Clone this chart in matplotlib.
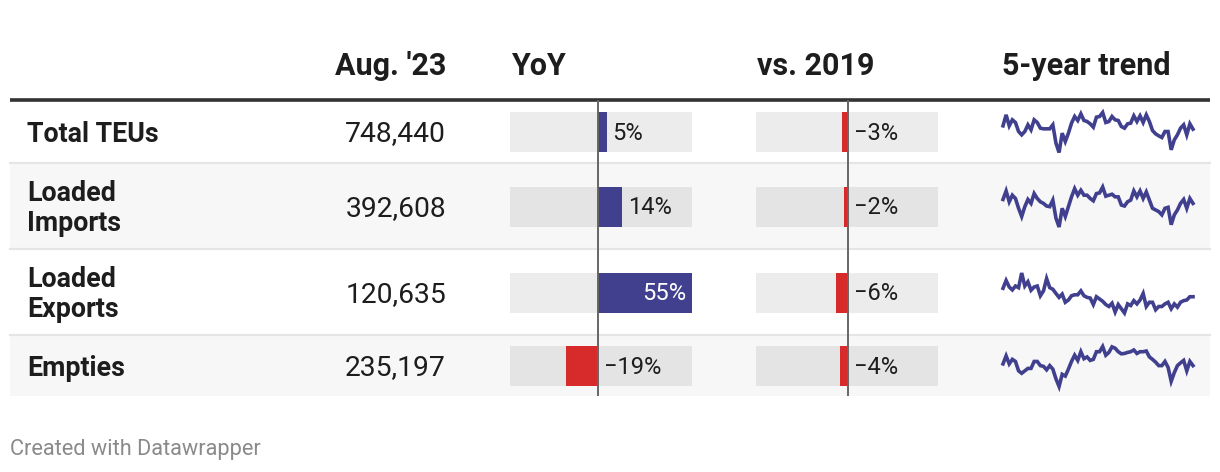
import matplotlib.pyplot as plt

plt.rcParams['font.family'] = ['Roboto', 'DejaVu Sans']

# table data
categories = ['Total TEUs', 'Loaded\nImports', 'Loaded\nExports', 'Empties']
aug23 = [748440, 392608, 120635, 235197]
yoy = [5, 14, 55, -19]
vs2019 = [-3, -2, -6, -4]
headers = ["Aug. '23", 'YoY', 'vs. 2019', '5-year trend']

trend_total = [82, 115, 82, 100, 92, 65, 55, 65, 85, 70, 100, 92, 75, 73, 73, 73,
               85, 30, 2, 60, 35, 60, 90, 110, 98, 118, 98, 95, 88, 78, 108, 110,
               122, 92, 95, 110, 100, 98, 80, 75, 88, 90, 112, 95, 112, 92, 115, 95,
               68, 58, 52, 47, 65, 65, 10, 40, 55, 75, 85, 55, 88, 72]
trend_imports = [87, 113, 80, 100, 90, 60, 35, 65, 87, 75, 105, 90, 80, 75, 67, 65,
                 85, 30, 3, 60, 35, 65, 95, 120, 100, 115, 100, 100, 90, 83, 105, 107,
                 125, 97, 100, 103, 95, 95, 70, 67, 80, 85, 113, 95, 113, 90, 110, 85,
                 60, 55, 50, 40, 60, 63, 10, 40, 55, 75, 87, 60, 90, 75]
trend_exports = [78, 102, 82, 73, 85, 80, 125, 85, 98, 72, 82, 85, 55, 70, 108, 80,
                 75, 62, 50, 60, 35, 42, 55, 58, 58, 70, 55, 50, 48, 28, 52, 45,
                 38, 28, 22, 32, 5, 28, 15, 2, 30, 25, 40, 30, 42, 62, 22, 35,
                 35, 12, 22, 22, 30, 35, 15, 30, 20, 35, 40, 42, 52, 52]
trend_empties = [67, 90, 67, 80, 74, 47, 40, 47, 54, 54, 74, 74, 62, 60, 50, 62,
                 52, 24, 2, 37, 32, 52, 74, 92, 77, 102, 82, 87, 77, 80, 102, 102,
                 117, 92, 100, 116, 112, 102, 96, 97, 100, 102, 107, 97, 102, 102, 104, 87,
                 80, 72, 62, 62, 74, 57, 17, 42, 62, 70, 77, 47, 74, 62]
trends = [trend_total, trend_imports, trend_exports, trend_empties]

# layout (pixels)
W, H = 1220, 472
row_h = [63, 86, 86, 61]
top = 100
blue = '#40408f'
red = '#d72a2a'
dark = '#1d1d1d'

fig = plt.figure(figsize=(W / 100, H / 100), dpi=100)
bg = fig.add_axes([0, 0, 1, 1])
bg.set_xlim(0, W)
bg.set_ylim(H, 0)
bg.axis('off')

def px_axes(x0, y0, x1, y1):
    a = fig.add_axes([x0 / W, 1 - y1 / H, (x1 - x0) / W, (y1 - y0) / H])
    a.patch.set_alpha(0)
    a.axis('off')
    return a

# row bands, separators, labels, values
bounds = [top]
for h in row_h:
    bounds.append(bounds[-1] + h)
centers = [(bounds[i] + bounds[i + 1]) / 2 for i in range(len(row_h))]
for i, cat in enumerate(categories):
    if i % 2 == 1:
        bg.add_patch(plt.Rectangle((10, bounds[i]), 1200, row_h[i], color='#f7f7f7', lw=0))
    if i > 0:
        bg.plot([10, 1210], [bounds[i], bounds[i]], color='#e5e5e5', lw=1.6)
    bg.text(27, centers[i] + 2.5, cat, ha='left', va='center', fontsize=19.3,
            fontweight='bold', color=dark, linespacing=1.12)
    bg.text(446, centers[i] + 2.5, f'{aug23[i]:,}', ha='right', va='center',
            fontsize=20.3, color=dark)

bg.plot([10, 1210], [top, top], color='#333333', lw=2.6, solid_capstyle='butt')

hkw = dict(va='baseline', fontsize=22, fontweight='bold', color=dark)
bg.text(446, 75, headers[0], ha='right', **hkw)
bg.text(511, 75, headers[1], ha='left', **hkw)
bg.text(757, 75, headers[2], ha='left', **hkw)
bg.text(1002, 75, headers[3], ha='left', **hkw)

bg.text(10, 455, 'Created with Datawrapper', ha='left', va='baseline', fontsize=15.7, color='#8a8a8a')

# bar columns
def bar_column(x0, x1, vals, lo, hi):
    ax = px_axes(x0, top, x1, bounds[-1])
    ax.set_xlim(lo, hi)
    ax.set_ylim(bounds[-1], top)
    for i, v in enumerate(vals):
        ax.barh(centers[i] + 1, hi - lo, left=lo, height=40, color='black', alpha=0.075, lw=0)
        ax.barh(centers[i] + 1, v, height=40, color=blue if v > 0 else red, lw=0)
        label = f'{v}%'.replace('-', '\u2212')
        if v > 0 and v > 0.8 * hi:
            ax.annotate(label, (v, centers[i] + 2), xytext=(-4, 0), textcoords='offset points',
                        ha='right', va='center', fontsize=17, color='white')
        else:
            ax.annotate(label, (max(v, 0), centers[i] + 2), xytext=(4, 0), textcoords='offset points',
                        ha='left', va='center', fontsize=17, color=dark)
    ax.axvline(0, color='#666666', lw=1.4)
    return ax

bar_column(510, 692, yoy, -52, 55)
bar_column(756, 938, vs2019, -46, 45)

# sparklines
for i, vals in enumerate(trends):
    c = centers[i] + 1
    ax = px_axes(1003, c - 20, 1193, c + 20)
    ax.plot(range(len(vals)), vals, color=blue, lw=2.6, clip_on=False, solid_joinstyle='miter')
    ax.set_xlim(0, len(vals) - 1)
    ax.set_ylim(min(vals), max(vals))

fig.savefig('out.png', dpi=100)
